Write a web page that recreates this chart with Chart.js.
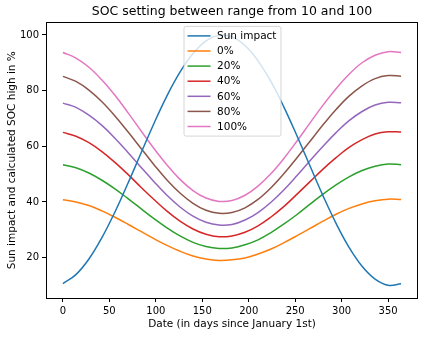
<!DOCTYPE html>
<html>
<head>
<meta charset="utf-8">
<script src="https://cdn.jsdelivr.net/npm/chart.js@4/dist/chart.umd.min.js"></script>
<style>
  body { margin: 0; background: #fff; }
  #wrap { width: 425px; height: 350px; }
</style>
</head>
<body>
<div id="wrap"><canvas id="chart" width="425" height="350"></canvas></div>
<script>
// values (days since January 1st)
const days = [0, 14, 28, 42, 56, 70, 84, 98, 112, 126, 140, 154, 168, 182, 196, 210, 224, 238, 252, 266, 280, 294, 308, 322, 336, 350, 364];
const sunImpact = [10.7, 13.9, 19.5, 27.2, 36.4, 46.7, 57.5, 68.2, 78.1, 86.6, 93.3, 97.9, 99.9, 99.3, 96.2, 90.7, 83.2, 74.0, 63.7, 52.9, 42.2, 32.3, 23.7, 16.9, 12.3, 10.1, 10.6];
const soc0 = [40.8, 40.0, 38.7, 36.8, 34.5, 32.0, 29.4, 26.8, 24.4, 22.3, 20.6, 19.5, 19.0, 19.2, 19.9, 21.3, 23.1, 25.4, 27.9, 30.5, 33.1, 35.6, 37.7, 39.3, 40.4, 41.0, 40.9];
const soc20 = [53.4, 52.3, 50.4, 47.8, 44.7, 41.2, 37.6, 34.0, 30.7, 27.8, 25.5, 24.0, 23.3, 23.5, 24.6, 26.4, 29.0, 32.1, 35.5, 39.2, 42.8, 46.1, 49.0, 51.3, 52.8, 53.6, 53.4];
const soc40 = [65.0, 63.6, 61.3, 58.1, 54.2, 49.9, 45.3, 40.9, 36.7, 33.1, 30.3, 28.4, 27.5, 27.8, 29.1, 31.4, 34.6, 38.4, 42.8, 47.3, 51.8, 55.9, 59.6, 62.4, 64.4, 65.2, 65.1];
const soc60 = [75.5, 74.0, 71.2, 67.5, 62.9, 57.8, 52.5, 47.3, 42.4, 38.2, 34.9, 32.7, 31.7, 31.9, 33.5, 36.2, 39.9, 44.4, 49.5, 54.8, 60.0, 64.9, 69.2, 72.5, 74.8, 75.8, 75.6];
const soc80 = [85.1, 83.3, 80.2, 76.0, 70.9, 65.2, 59.3, 53.4, 47.9, 43.2, 39.5, 37.0, 35.9, 36.2, 37.9, 40.9, 45.1, 50.2, 55.9, 61.8, 67.7, 73.2, 78.0, 81.7, 84.3, 85.4, 85.2];
const soc100 = [93.7, 91.7, 88.4, 83.8, 78.3, 72.1, 65.6, 59.2, 53.3, 48.1, 44.1, 41.4, 40.2, 40.5, 42.4, 45.7, 50.2, 55.7, 61.9, 68.4, 74.8, 80.7, 85.9, 90.0, 92.7, 94.0, 93.7];

const xTicks = [0, 50, 100, 150, 200, 250, 300, 350];
const yTicks = [20, 40, 60, 80, 100];

const FONT = "'DejaVu Sans', sans-serif";
const TITLE = "SOC setting between range from 10 and 100";

function series(label, values, color) {
  return {
    label: label,
    data: days.map((d, i) => ({ x: d, y: values[i] })),
    borderColor: color,
    backgroundColor: color,
    borderWidth: 1.5,
    pointRadius: 0,
    tension: 0.4,
    fill: false,
  };
}

// frame, title and matplotlib style legend
const frameAndLegend = {
  id: "frameAndLegend",
  afterDatasetsDraw(chart) {
    const { ctx, chartArea: a } = chart;
    const cx = (a.left + a.right) / 2;
    ctx.save();
    ctx.strokeStyle = "#000";
    ctx.lineWidth = 1;
    ctx.strokeRect(Math.round(a.left) + 0.5, Math.round(a.top) + 0.5,
      Math.round(a.right - a.left) - 1, Math.round(a.bottom - a.top));

    ctx.fillStyle = "#000";
    ctx.font = "12.5px " + FONT;
    ctx.textAlign = "center";
    ctx.textBaseline = "middle";
    ctx.fillText(TITLE, cx, 12);

    ctx.textAlign = "left";
    ctx.font = "10.5px " + FONT;
    const sets = chart.data.datasets;
    let tw = 0;
    for (let ds of sets) tw = Math.max(tw, ctx.measureText(ds.label).width);
    const w = 4 + 23 + 6.5 + tw + 4;
    const rowH = 15.1;
    const h = sets.length * rowH + 4;
    const x0 = cx - w / 2;
    const y0 = a.top + 3.5;

    ctx.fillStyle = "rgba(255,255,255,0.8)";
    ctx.strokeStyle = "rgba(204,204,204,0.8)";
    ctx.beginPath();
    ctx.roundRect(x0 + 0.5, y0 + 0.5, w, h, 2);
    ctx.fill();
    ctx.stroke();

    sets.forEach((ds, i) => {
      const y = y0 + 10 + i * rowH;
      ctx.strokeStyle = ds.borderColor;
      ctx.lineWidth = 1.5;
      ctx.beginPath();
      ctx.moveTo(x0 + 4, y);
      ctx.lineTo(x0 + 27, y);
      ctx.stroke();
      ctx.fillStyle = "#000";
      ctx.fillText(ds.label, x0 + 33.5, y + 0.5);
    });
    ctx.restore();
  },
};

new Chart(document.getElementById("chart").getContext("2d"), {
  type: "line",
  data: {
    datasets: [
      series("Sun impact", sunImpact, "#1f77b4"),
      series("0%", soc0, "#ff7f0e"),
      series("20%", soc20, "#2ca02c"),
      series("40%", soc40, "#d62728"),
      series("60%", soc60, "#9467bd"),
      series("80%", soc80, "#8c564b"),
      series("100%", soc100, "#e377c2"),
    ],
  },
  options: {
    responsive: false,
    animation: false,
    layout: { padding: { left: 0, right: 7, top: 22.4, bottom: 0 } },
    plugins: {
      legend: { display: false },
      tooltip: { enabled: false },
    },
    scales: {
      x: {
        type: "linear",
        min: -18.2,
        max: 382.2,
        afterBuildTicks: (s) => { s.ticks = xTicks.map((v) => ({ value: v })); },
        afterFit: (s) => { s.height = 52; },
        grid: { drawOnChartArea: false, drawTicks: true, tickLength: 4, tickColor: "#000" },
        border: { display: false },
        ticks: { color: "#000", padding: 3, maxRotation: 0, font: { family: FONT, size: 10 } },
        title: {
          display: true,
          text: "Date (in days since January 1st)",
          color: "#000",
          font: { family: FONT, size: 10.5 },
          padding: { top: 0, bottom: 19 },
        },
      },
      y: {
        min: 5.5,
        max: 104.5,
        afterBuildTicks: (s) => { s.ticks = yTicks.map((v) => ({ value: v })); },
        afterFit: (s) => { s.width = 46; },
        grid: { drawOnChartArea: false, drawTicks: true, tickLength: 4, tickColor: "#000" },
        border: { display: false },
        ticks: { color: "#000", padding: 3, font: { family: FONT, size: 10 } },
        title: {
          display: true,
          text: "Sun impact and calculated SOC high in %",
          color: "#000",
          font: { family: FONT, size: 10.5 },
          padding: { top: 6, bottom: 0 },
        },
      },
    },
  },
  plugins: [frameAndLegend],
});
</script>
</body>
</html>
